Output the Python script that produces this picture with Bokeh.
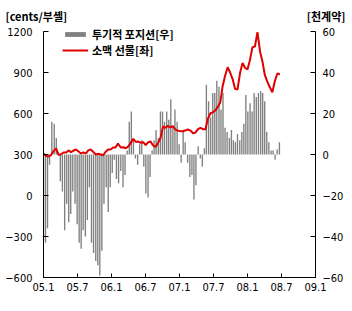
import numpy as np
import pandas as pd
from bokeh.plotting import figure
from bokeh.models import Range1d, LinearAxis, FixedTicker, Legend, LegendItem, Title
from bokeh.embed import file_html
from bokeh.resources import INLINE

# ---------------- data ----------------
x_tick_labels = ["05.1", "05.7", "06.1", "06.7", "07.1", "07.7", "08.1", "08.7", "09.1"]
x_tick_months = [0, 6, 12, 18, 24, 30, 36, 42, 48]
left_ticks = [1200, 900, 600, 300, 0, -300, -600]
right_ticks = [60, 40, 20, 0, -20, -40, -60]
left_unit = "[cents/부셸]"
right_unit = "[천계약]"
series_names = ["투기적 포지션[우]", "소맥 선물[좌]"]

# speculative net position (thousand contracts, right axis)
position_values = [
    -42, -43, -36, -5, 16, 15, 8, 1, -13, -18, -37, -24, -33, -29, -18, -24,
    -34, -43, -46, -37, -40, -32, -16, -43, -48, -52, -54, -59, -47, -24, -16, -28,
    -16, -9, -2.5, -12, -14, -8, -16, -10, 2, 16, 21, 7, -2, -5, 5, 7,
    -6, -19, -21, -11, 2, 7, 12, 8, 21, 21, 16, 21, 17, 27, 14, 22,
    16, 5, -4, 11, 6, -4, -11, -10, -22, -15, 4, -2, -6, 3, 34, 26,
    18, 30, 30, 36, 33, 22, 30, 13, 11, 8, 12, 7, 6, 10, 7, 11,
    15, 29, 21, 25, 21, 30, 28, 30, 31, 30, 26, 11, 6, 2, 2, -2.5,
    2.5, 6,
]
position_start, position_end = "2005-01-01", "2008-06-20"

# wheat futures (cents/bushel, left axis)
wheat_values = [
    307, 290, 285, 295, 325, 345, 295, 302, 315, 315, 330, 317, 329, 337, 322, 308,
    315, 308, 330, 337, 318, 300, 305, 300, 295, 320, 337, 337, 351, 352, 380, 351,
    353, 346, 359, 385, 415, 392, 395, 386, 390, 368, 390, 395, 366, 356, 383, 420,
    505, 495, 510, 498, 508, 483, 473, 471, 470, 475, 483, 475, 455, 460, 485, 495,
    485, 485, 560, 600, 610, 622, 650, 680, 800, 880, 939, 900, 850, 780, 775, 900,
    970, 935, 922, 990, 1085, 1090, 1195, 1050, 980, 880, 830, 790, 756, 840, 893, 886,
]
wheat_start, wheat_end = "2005-01-01", "2008-06-23"


def to_months(d):
    return ((d.year - 2005) * 12 + (d.month - 1) + (d.day - 1) / d.days_in_month).to_numpy()


bar_x = to_months(pd.date_range(position_start, position_end, periods=len(position_values)))
wheat_x = to_months(pd.date_range(wheat_start, wheat_end, periods=len(wheat_values)))

# ---------------- figure ----------------
# the frame reaches a little above the top tick (room for the legend);
# the axis lines themselves stop at the top tick via `bounds`
headroom = 6 / 246
l_lo, l_hi = left_ticks[-1], left_ticks[0]
r_lo, r_hi = right_ticks[-1], right_ticks[0]
p = figure(width=352, height=311, x_range=Range1d(0, 48),
           y_range=Range1d(l_lo, l_hi + (l_hi - l_lo) * headroom),
           output_backend="svg", toolbar_location=None,
           min_border_left=43, min_border_right=37, min_border_top=25, min_border_bottom=34)
p.extra_y_ranges = {"right": Range1d(r_lo, r_hi + (r_hi - r_lo) * headroom)}
p.xgrid.visible = False
p.ygrid.visible = False
p.outline_line_color = None
p.background_fill_color = "white"
p.border_fill_color = "white"

tick_font = "DejaVu Sans Condensed"
kr_font = "Noto Sans CJK KR"


def style_axis(ax):
    ax.axis_line_color = "black"
    ax.major_tick_line_color = "black"
    ax.major_tick_in = 5
    ax.major_tick_out = 0
    ax.minor_tick_in = 0
    ax.minor_tick_out = 0
    ax.major_label_text_font = tick_font
    ax.major_label_text_font_size = "11px"
    ax.major_label_text_color = "black"


def fmt(v):
    return str(v).replace("-", "\u2212")


xa = p.xaxis[0]
style_axis(xa)
xa.major_tick_in = 4
xa.ticker = FixedTicker(ticks=x_tick_months)
xa.major_label_overrides = {m: l for m, l in zip(x_tick_months, x_tick_labels)}
xa.major_label_standoff = 5

ya = p.yaxis[0]
style_axis(ya)
ya.bounds = (l_lo, l_hi)
ya.ticker = FixedTicker(ticks=left_ticks)
ya.major_label_overrides = {v: fmt(v) for v in left_ticks}
ya.major_label_standoff = 11

ra = LinearAxis(y_range_name="right")
style_axis(ra)
ra.bounds = (r_lo, r_hi)
ra.ticker = FixedTicker(ticks=right_ticks)
ra.major_label_overrides = {v: fmt(v) for v in right_ticks}
ra.major_label_standoff = 7
p.add_layout(ra, "right")

bars = p.vbar(x=bar_x, top=position_values, bottom=0, width=0.24, y_range_name="right",
              fill_color="#808080", line_color=None)
wheat = p.line(x=wheat_x, y=wheat_values, line_color="#e00000", line_width=2)


# series legend: one small legend per series, inside the frame at top-left
def series_legend(label, renderer, loc):
    return Legend(items=[LegendItem(label=label, renderers=[renderer])],
                  location=loc, border_line_color=None, background_fill_alpha=0,
                  padding=0, margin=0, spacing=0, glyph_width=26, glyph_height=6,
                  label_height=13, label_standoff=4,
                  label_text_font=kr_font, label_text_font_style="bold",
                  label_text_font_size="11px", label_text_color="black")


p.add_layout(series_legend(series_names[0], bars, (19, 235)))
p.add_layout(series_legend(series_names[1], wheat, (19, 219)))

# unit labels as titles above the frame (same row)
t_right = Title(text=right_unit, align="right", offset=-30, standoff=0, vertical_align="top",
                text_font=kr_font, text_font_style="bold", text_font_size="11px",
                text_color="black")
t_left = Title(text=left_unit, align="left", offset=-38, standoff=-33, vertical_align="bottom",
               text_font=kr_font, text_font_style="bold", text_font_size="11px",
               text_color="black")
p.add_layout(t_right, "above")
p.add_layout(t_left, "above")

open("out.html", "w").write(file_html(p, INLINE))
